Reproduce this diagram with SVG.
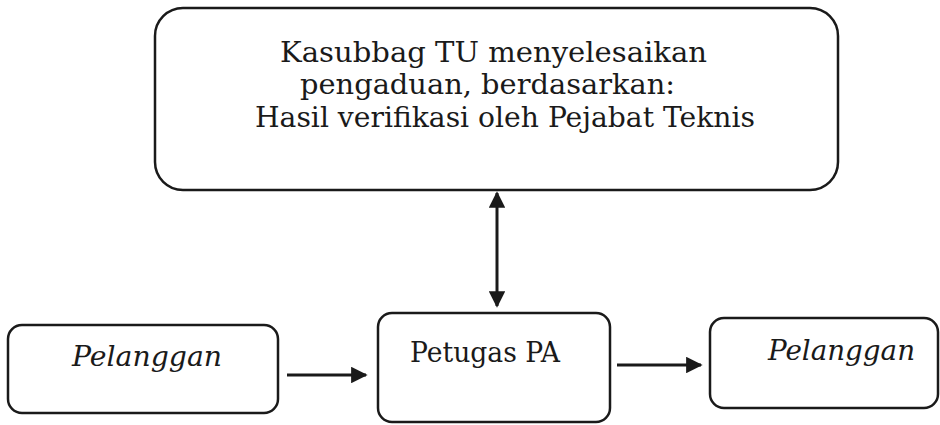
<svg xmlns="http://www.w3.org/2000/svg" width="940" height="425" viewBox="0 0 940 425">
<style>
.box{fill:#fff;stroke:#1a1a1a;stroke-width:2.5}
.t{font-family:"DejaVu Serif","Liberation Serif",serif;font-size:27px;fill:#1a1a1a}
.i{font-style:italic}
.c{stroke:#1a1a1a;stroke-width:3;fill:none}
</style>
<defs>
<marker id="ah" viewBox="0 0 10 10" refX="9" refY="5" markerWidth="5.5" markerHeight="5.5" markerUnits="strokeWidth" orient="auto-start-reverse">
<path d="M0,0 L10,5 L0,10 z" fill="#1a1a1a"/>
</marker>
</defs>
<rect width="940" height="425" fill="#fff"/>
<g id="kasubbag">
<rect class="box" x="155" y="8" width="683" height="182" rx="28"/>
<text class="t" x="280" y="62" textLength="427" lengthAdjust="spacingAndGlyphs">Kasubbag TU menyelesaikan</text>
<text class="t" x="300" y="94" textLength="375" lengthAdjust="spacingAndGlyphs">pengaduan, berdasarkan:</text>
<text class="t" x="255" y="127" textLength="500" lengthAdjust="spacingAndGlyphs">Hasil verifikasi oleh Pejabat Teknis</text>
</g>
<g id="pelanggan1">
<rect class="box" x="8" y="325" width="270" height="88" rx="14"/>
<text class="t i" x="72" y="366" textLength="150" lengthAdjust="spacingAndGlyphs">Pelanggan</text>
</g>
<g id="petugas">
<rect class="box" x="378" y="313" width="232" height="109" rx="14"/>
<text class="t" x="410" y="362" textLength="150" lengthAdjust="spacingAndGlyphs">Petugas PA</text>
</g>
<g id="pelanggan2">
<rect class="box" x="710" y="318" width="228" height="90" rx="14"/>
<text class="t i" x="768" y="360" textLength="147" lengthAdjust="spacingAndGlyphs">Pelanggan</text>
</g>
<g id="connectors">
<line class="c" x1="497" y1="193" x2="497" y2="306" marker-start="url(#ah)" marker-end="url(#ah)"/>
<line class="c" x1="287" y1="375" x2="366" y2="375" marker-end="url(#ah)"/>
<line class="c" x1="617" y1="365" x2="701" y2="365" marker-end="url(#ah)"/>
</g>
</svg>
